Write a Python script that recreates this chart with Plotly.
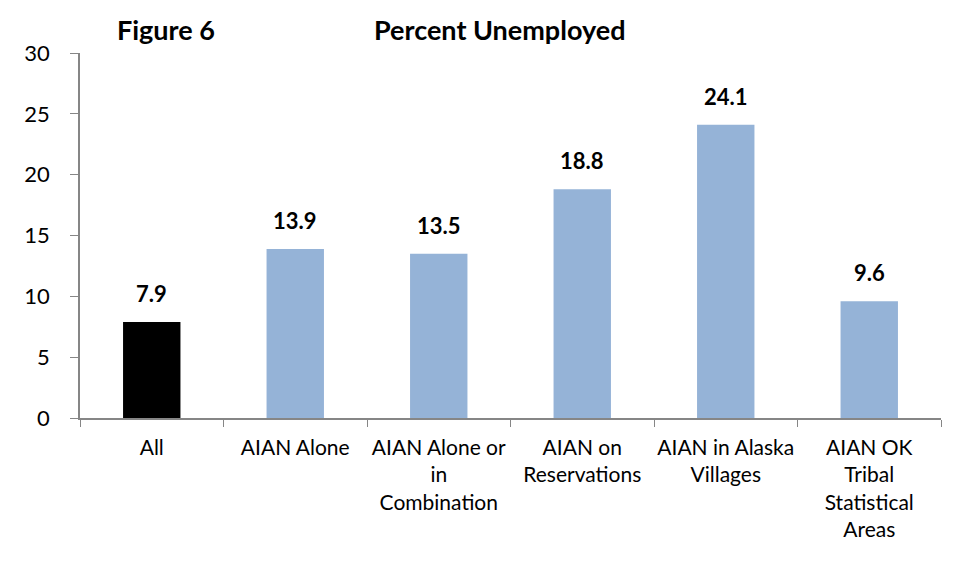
import plotly.graph_objects as go

# Unemployment rate (%) by population group
categories = [
    "All",
    "AIAN Alone",
    "AIAN Alone or<br>in<br>Combination",
    "AIAN on<br>Reservations",
    "AIAN in Alaska<br>Villages",
    "AIAN OK<br>Tribal<br>Statistical<br>Areas",
]
percent_unemployed = [7.9, 13.9, 13.5, 18.8, 24.1, 9.6]
bar_colors = ["#000000", "#95B3D7", "#95B3D7", "#95B3D7", "#95B3D7", "#95B3D7"]

FONT = "Lato, Calibri, Carlito, sans-serif"
AXIS_GRAY = "#868686"

W, H = 956, 578
ML, MR, MT, MB = 80, 15, 53, 160
PW, PH = W - ML - MR, H - MT - MB


def px_to_paper(px, py):
    return (px - ML) / PW, (H - MB - py) / PH


fig = go.Figure(
    go.Bar(
        x=categories,
        y=percent_unemployed,
        marker=dict(color=bar_colors, line=dict(width=0)),
        width=0.4,
        cliponaxis=False,
        hoverinfo="x+y",
    )
)

annotations = []
# value labels above each bar
for cat, val in zip(categories, percent_unemployed):
    annotations.append(dict(
        x=cat, y=val, xref="x", yref="y",
        text=f"<b>{val:.1f}</b>", showarrow=False,
        xanchor="center", yanchor="bottom", yshift=13,
        font=dict(family=FONT, size=22, color="#000000"),
    ))

# chart titles
for label, cx in [("Figure 6", 166), ("Percent Unemployed", 500)]:
    ax, ay = px_to_paper(cx, 30)
    annotations.append(dict(
        x=ax, y=ay, xref="paper", yref="paper",
        text=f"<b>{label}</b>", showarrow=False,
        xanchor="center", yanchor="middle",
        font=dict(family=FONT, size=27, color="#000000"),
    ))

fig.update_layout(
    width=W,
    height=H,
    margin=dict(l=ML, r=MR, t=MT, b=MB, autoexpand=False),
    paper_bgcolor="white",
    plot_bgcolor="white",
    showlegend=False,
    font=dict(family=FONT, size=21, color="#000000"),
    annotations=annotations,
)

fig.update_xaxes(
    type="category",
    tickson="boundaries",
    ticks="outside",
    ticklen=7,
    tickcolor=AXIS_GRAY,
    tickangle=0,
    automargin=False,
    showline=True,
    linecolor=AXIS_GRAY,
    linewidth=1.5,
    showgrid=False,
    ticklabelstandoff=10,
    tickfont=dict(size=21),
)
fig.update_yaxes(
    range=[0, 30],
    dtick=5,
    ticks="outside",
    ticklen=8,
    tickcolor=AXIS_GRAY,
    automargin=False,
    showline=True,
    linecolor=AXIS_GRAY,
    linewidth=1.5,
    showgrid=False,
    zeroline=False,
    ticklabelstandoff=16,
    tickfont=dict(size=22),
)

fig.write_html("out.html")
